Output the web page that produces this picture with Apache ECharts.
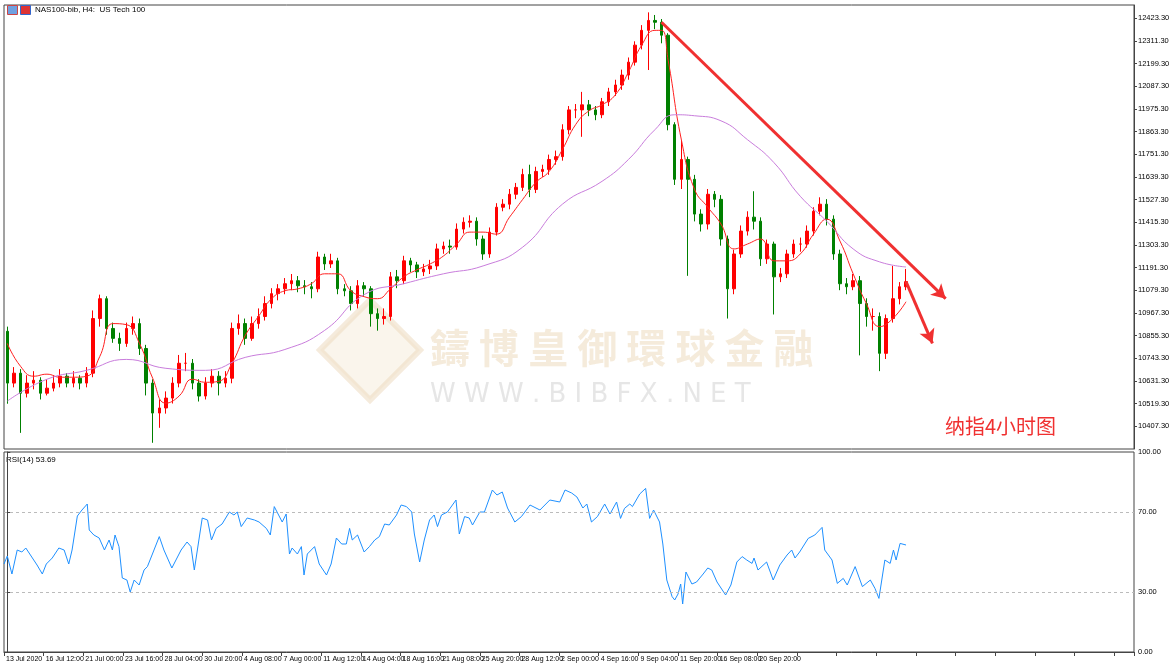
<!DOCTYPE html>
<html>
<head>
<meta charset="utf-8">
<script src="https://cdn.jsdelivr.net/npm/echarts@6/dist/echarts.min.js"></script>
<style>html,body{margin:0;padding:0;background:#fff}#main{width:1170px;height:666px}</style>
</head>
<body>
<div id="main"></div>
<script>
// H4 candles [open, close, low, high]
var candles = [
  [10877,10621,10519,10900],[10621,10670,10600,10700],[10670,10571,10375,10690],[10571,10621,10550,10660],
  [10621,10635,10590,10680],[10635,10571,10540,10650],[10571,10596,10560,10640],[10596,10621,10580,10660],
  [10621,10655,10600,10690],[10655,10621,10600,10670],[10621,10645,10600,10680],[10645,10621,10590,10660],
  [10621,10670,10600,10700],[10670,10940,10650,10980],[10940,11038,10900,11058],[11038,10891,10860,11050],
  [10891,10842,10820,10920],[10842,10817,10780,10870],[10817,10891,10800,10920],[10891,10915,10860,10950],
  [10915,10792,10760,10940],[10792,10621,10560,10810],[10621,10473,10326,10640],[10473,10498,10400,10540],
  [10498,10547,10470,10580],[10547,10621,10520,10650],[10621,10719,10600,10760],[10719,10719,10680,10770],
  [10719,10621,10590,10740],[10621,10557,10530,10640],[10557,10621,10540,10650],[10621,10655,10600,10690],
  [10655,10621,10560,10680],[10621,10645,10600,10680],[10645,10891,10620,10920],[10891,10915,10860,10960],
  [10915,10842,10810,10940],[10842,10915,10830,10950],[10915,10950,10890,10990],[10950,11014,10930,11050],
  [11014,11063,10990,11090],[11063,11087,11030,11110],[11087,11112,11060,11140],[11112,11127,11080,11160],
  [11127,11102,11070,11150],[11102,11097,11060,11130],[11097,11087,11040,11120],[11087,11244,11070,11270],
  [11244,11210,11180,11260],[11210,11225,11190,11260],[11225,11087,11060,11240],[11087,11077,11050,11110],
  [11077,11014,10980,11100],[11014,11102,10990,11130],[11102,11087,11050,11120],[11087,10964,10900,11100],
  [10964,10940,10880,10990],[10940,10950,10910,10990],[10950,11146,10930,11170],[11146,11127,11090,11180],
  [11127,11225,11110,11250],[11225,11205,11170,11240],[11205,11171,11140,11220],[11171,11185,11150,11210],
  [11185,11200,11160,11230],[11200,11284,11180,11310],[11284,11298,11260,11320],[11298,11293,11260,11330],
  [11293,11382,11280,11410],[11382,11416,11360,11440],[11416,11421,11390,11450],[11421,11333,11300,11440],
  [11333,11259,11230,11350],[11259,11367,11240,11390],[11367,11490,11350,11510],[11490,11505,11470,11530],
  [11505,11554,11480,11580],[11554,11588,11530,11610],[11588,11652,11570,11680],[11652,11578,11540,11700],
  [11578,11667,11560,11690],[11667,11677,11640,11700],[11677,11726,11650,11750],[11726,11740,11700,11770],
  [11740,11873,11720,11900],[11873,11971,11850,11990],[11971,11971,11930,12000],[11971,11996,11838,12060],
  [11996,11971,11940,12020],[11971,11947,11920,11990],[11947,12011,11930,12030],[12011,12060,11990,12080],
  [12060,12094,12040,12120],[12094,12143,12070,12170],[12143,12207,12120,12230],[12207,12291,12190,12310],
  [12291,12364,12270,12390],[12364,12413,12168,12453],[12413,12404,12370,12440],[12404,12340,12300,12420],
  [12340,11898,11870,12350],[11898,11628,11600,11910],[11628,11726,11580,11824],[11726,11628,11151,11740],
  [11628,11456,11420,11650],[11456,11407,11370,11480],[11407,11554,11380,11580],[11554,11529,11490,11570],
  [11529,11333,11300,11550],[11333,11087,10940,11350],[11087,11259,11060,11280],[11259,11372,11240,11400],
  [11372,11441,11350,11470],[11441,11421,11380,11569],[11421,11235,11200,11440],[11235,11308,11210,11330],
  [11308,11146,10960,11320],[11146,11161,11120,11190],[11161,11259,11140,11280],[11259,11308,11240,11330],
  [11308,11308,11270,11340],[11308,11372,11290,11400],[11372,11470,11350,11490],[11470,11505,11450,11539],
  [11505,11431,11400,11530],[11431,11259,11230,11450],[11259,11112,11080,11280],[11112,11097,11060,11140],
  [11097,11127,11080,11160],[11127,11014,10758,11150],[11014,10950,10900,11040],[10950,10950,10880,10990],
  [10950,10768,10680,10970],[10768,10940,10740,10960],[10940,11038,10920,11200],[11038,11097,11010,11120],
  [11097,11122,11080,11185]
];

// fast MA (red), [candle index, value]
var maFast = [
  [0,10817],[2,10704],[4,10655],[6,10665],[8,10650],[10,10650],[12,10655],[14,10753],[16,10915],[18,10910],
  [20,10817],[22,10645],[24,10522],[26,10557],[28,10640],[30,10625],[32,10630],[34,10719],[36,10856],[38,10950],
  [40,11038],[42,11077],[44,11087],[46,11112],[48,11161],[50,11161],[52,11077],[54,11048],[56,11038],[58,11087],
  [60,11146],[62,11181],[64,11210],[66,11249],[68,11308],[70,11367],[72,11367],[74,11357],[76,11441],[78,11529],
  [80,11613],[82,11667],[84,11775],[86,11898],[88,11966],[90,11996],[92,12045],[94,12158],[96,12291],[98,12364],
  [99,12364],[100,12217],[102,11824],[104,11578],[106,11490],[108,11407],[110,11284],[112,11308],[114,11333],
  [116,11225],[118,11225],[120,11259],[122,11357],[124,11431],[126,11323],[128,11161],[130,11014],[132,10900],
  [134,10940],[136,11023]
];

// slow MA (purple)
var maSlow = [
  [0,10532],[6,10640],[12,10684],[18,10738],[24,10694],[30,10684],[36,10748],[42,10787],[48,10881],[54,11058],
  [60,11112],[66,11161],[72,11200],[78,11293],[84,11505],[90,11618],[94,11726],[98,11873],[101,11947],[104,11942],
  [108,11917],[112,11824],[116,11711],[120,11544],[124,11421],[128,11284],[132,11220],[136,11195]
];

// RSI(14), [candle position, value]
var rsi = [
  [-0.5,44],[0,48],[0.7,39],[1.5,51],[2.2,50],[2.8,52],[3.6,48],[4.5,43.5],[5.3,39],[5.9,44],[6.8,47],[7.8,52],
  [8.6,51],[9.3,44],[9.8,51],[10.6,68],[11.3,71],[12.1,74],[12.4,61],[13.1,58.5],[13.9,57],[14.7,51],[15.4,56],
  [15.9,51],[16.3,58.5],[16.9,52.7],[17.4,37],[18.1,36],[18.6,30],[19.2,36],[19.95,33.5],[20.7,41],[21.2,42.7],
  [21.9,48.5],[23,57.7],[23.7,51],[24.9,42],[26.3,51],[27.2,55],[27.8,52.7],[28.3,41],[29.5,67],[30.3,66],
  [30.9,56],[31.6,61.8],[32.5,64],[33.6,70],[34.3,68.5],[34.8,70],[35.4,62.7],[36.3,67],[37.4,66],[38.1,65],
  [39.2,61.8],[39.8,58.5],[40.4,72.7],[41.6,65],[42.2,69],[42.7,49],[43.1,52],[43.9,49],[44.5,52.7],[44.9,38.5],
  [45.4,49],[46.5,52.7],[47.2,44],[48.3,38.5],[49,44],[49.8,57],[50.6,54],[51.3,54],[51.8,61.8],[52.2,56],
  [53,58.5],[54,50],[54.8,52.7],[55.6,56],[56.3,57.7],[57.1,64],[57.8,63.5],[58.9,68.5],[59.6,73.5],[60.4,72.7],
  [61.2,70],[61.6,59],[62.4,45],[63.1,56],[63.9,66],[64.6,68.5],[65.1,62.7],[65.7,68.5],[66.6,70],[67.9,76],
  [68.4,59],[69.2,67.7],[69.9,67],[70.4,63.5],[71.5,70],[72.2,70],[73.4,81],[74.1,78.5],[74.9,80],[75.7,72],
  [76.8,65],[77.8,67.7],[79.1,73.5],[80.6,71],[82.1,76],[83.6,75],[84.4,81],[85.4,79.5],[86.2,77.5],[87.1,72],
  [87.7,74],[88.4,65],[89.3,67.7],[90.4,74],[91.2,69],[92.2,75],[92.8,66.8],[93.4,71.8],[94.2,74],[94.6,72.7],
  [95.7,79],[96.6,81.8],[97.2,66.8],[97.8,71],[98.7,65],[99.2,54],[99.8,36],[100.6,27.7],[101,26],[101.5,29],
  [101.9,34],[102.2,24],[102.7,40],[103.6,34],[104.3,35],[105.3,39],[106,42],[106.6,41],[106.9,42],[107.4,35],
  [108.7,28.5],[109.5,33.5],[110.4,45],[111.2,47.7],[111.9,46],[112.2,47],[112.7,44.3],[113,47],[113.6,41],
  [114.9,45],[115.9,36],[116.9,43.5],[118,48.5],[118.7,51],[119.2,47],[119.9,50],[121.2,56.8],[122.2,58.5],
  [123.3,62.3],[123.7,51],[124.8,46],[125.6,34.3],[126.5,36.8],[127.1,33.5],[128.3,42.7],[129.4,32.7],[130.6,36],
  [131.3,31.8],[131.9,26.8],[132.8,46],[133.6,44.3],[134.1,51],[134.5,46],[135.1,54.3],[136,53.5]
];

var timeLabels = ['13 Jul 2020','16 Jul 12:00','21 Jul 00:00','23 Jul 16:00','28 Jul 04:00','30 Jul 20:00',
  '4 Aug 08:00','7 Aug 00:00','11 Aug 12:00','14 Aug 04:00','18 Aug 16:00','21 Aug 08:00','25 Aug 20:00',
  '28 Aug 12:00','2 Sep 00:00','4 Sep 16:00','9 Sep 04:00','11 Sep 20:00','16 Sep 08:00','20 Sep 20:00'];
var rsiLevels = [0, 30, 70, 100];

var slots = 171;
var cats = [];
for (var i = 0; i < slots; i++) cats.push(String(i));

var chart = echarts.init(document.getElementById('main'));
var font = '"Liberation Sans", Arial, sans-serif';
var fs = 7.5;

chart.setOption({
  animation: false,
  backgroundColor: '#fff',
  grid: [
    {left: 4, right: 36, top: 5, height: 444, show: true, borderColor: '#444', borderWidth: 1, outerBoundsMode: 'none'},
    {left: 4, right: 36, top: 452, height: 200, show: true, borderColor: '#444', borderWidth: 1, outerBoundsMode: 'none'}
  ],
  xAxis: [
    {type: 'category', gridIndex: 0, data: cats, boundaryGap: true,
     axisLine: {show: false}, axisTick: {show: false}, axisLabel: {show: false}, splitLine: {show: false}},
    {type: 'value', gridIndex: 1, min: -0.5, max: slots - 0.5, interval: 6,
     axisLine: {show: true, lineStyle: {color: '#444'}},
     axisTick: {show: true, length: 4, lineStyle: {color: '#444'}},
     splitLine: {show: false},
     axisLabel: {fontSize: 7, fontFamily: font, color: '#000', align: 'left', margin: 4, padding: [0, 0, 0, 2],
       showMinLabel: true, hideOverlap: false,
       formatter: function (v) { var k = Math.round((v + 0.5) / 6); return timeLabels[k] || ''; }}}
  ],
  yAxis: [
    {type: 'value', gridIndex: 0, position: 'right', min: 10295.3, max: 12489.3, interval: 112,
     axisLine: {show: true, lineStyle: {color: '#444'}},
     axisTick: {show: true, length: 3, lineStyle: {color: '#444'}},
     splitLine: {show: false},
     axisLabel: {fontSize: fs, fontFamily: font, color: '#000', margin: 4, showMinLabel: false, showMaxLabel: false,
       formatter: function (v) { return v.toFixed(2); }}},
    {type: 'value', gridIndex: 1, position: 'right', min: 0, max: 100,
     axisLine: {show: true, lineStyle: {color: '#444'}},
     axisTick: {show: true, length: 3, customValues: rsiLevels, lineStyle: {color: '#444'}},
     splitLine: {show: false},
     axisLabel: {fontSize: fs, fontFamily: font, color: '#000', margin: 4, customValues: rsiLevels,
       formatter: function (v) { return v.toFixed(2); }}}
  ],
  graphic: [
    {type: 'polygon', z: 0, shape: {points: [[370, 300], [420, 350], [370, 400], [320, 350]]},
     style: {fill: 'rgba(240,225,200,0.35)', stroke: 'rgba(235,215,185,0.5)', lineWidth: 6}},
    {type: 'text', z: 0, left: 430, top: 328, style: {text: '鑄 博 皇 御 環 球 金 融', fill: 'rgba(232,210,175,0.45)',
      font: 'bold 40px "Noto Sans CJK TC"'}},
    {type: 'text', z: 0, left: 430, top: 382, style: {text: 'W W W . B I B F X . N E T', fill: 'rgba(200,200,200,0.45)',
      font: '26px "DejaVu Sans"'}},
    {type: 'text', left: 35, top: 6, style: {text: 'NAS100-bib, H4:  US Tech 100', fill: '#000', font: '8px ' + font}},
    {type: 'rect', left: 7, top: 5, shape: {width: 10, height: 9}, style: {fill: '#6fa0e0', stroke: '#c44'}},
    {type: 'rect', left: 20, top: 5, shape: {width: 10, height: 9}, style: {fill: '#d33', stroke: '#36c'}},
    {type: 'text', left: 6, top: 456, style: {text: 'RSI(14) 53.69', fill: '#000', font: '8px ' + font}},
    {type: 'text', left: 945, top: 416, style: {text: '纳指4小时图', fill: '#f03030', font: '20px "Noto Sans CJK SC"'}}
  ],
  series: [
    {type: 'candlestick', xAxisIndex: 0, yAxisIndex: 0, data: candles, barWidth: 3,
     itemStyle: {color: '#ff0000', color0: '#008000', borderColor: '#ff0000', borderColor0: '#008000', borderWidth: 1},
     markLine: {silent: true, symbol: ['none', 'arrow'], symbolSize: [12, 14], label: {show: false},
       lineStyle: {color: '#f03030', width: 4, type: 'solid'},
       data: [
         [{coord: [99, 12404], lineStyle: {width: 3}}, {coord: [142, 11038]}],
         [{coord: [136, 11122], lineStyle: {width: 3}}, {coord: [140, 10817]}]
       ]}},
    {type: 'line', xAxisIndex: 0, yAxisIndex: 0, data: maFast, smooth: true, symbol: 'none',
     lineStyle: {color: '#ff2020', width: 1}},
    {type: 'line', xAxisIndex: 0, yAxisIndex: 0, data: maSlow, smooth: true, symbol: 'none',
     lineStyle: {color: '#c97ddc', width: 1}},
    {type: 'line', xAxisIndex: 1, yAxisIndex: 1, data: rsi, symbol: 'none',
     lineStyle: {color: '#1e90ff', width: 1},
     markLine: {silent: true, symbol: 'none', label: {show: false},
       lineStyle: {color: '#bbb', type: [3, 3], width: 1},
       data: [{yAxis: 30}, {yAxis: 70}]}}
  ]
});
</script>
</body>
</html>
